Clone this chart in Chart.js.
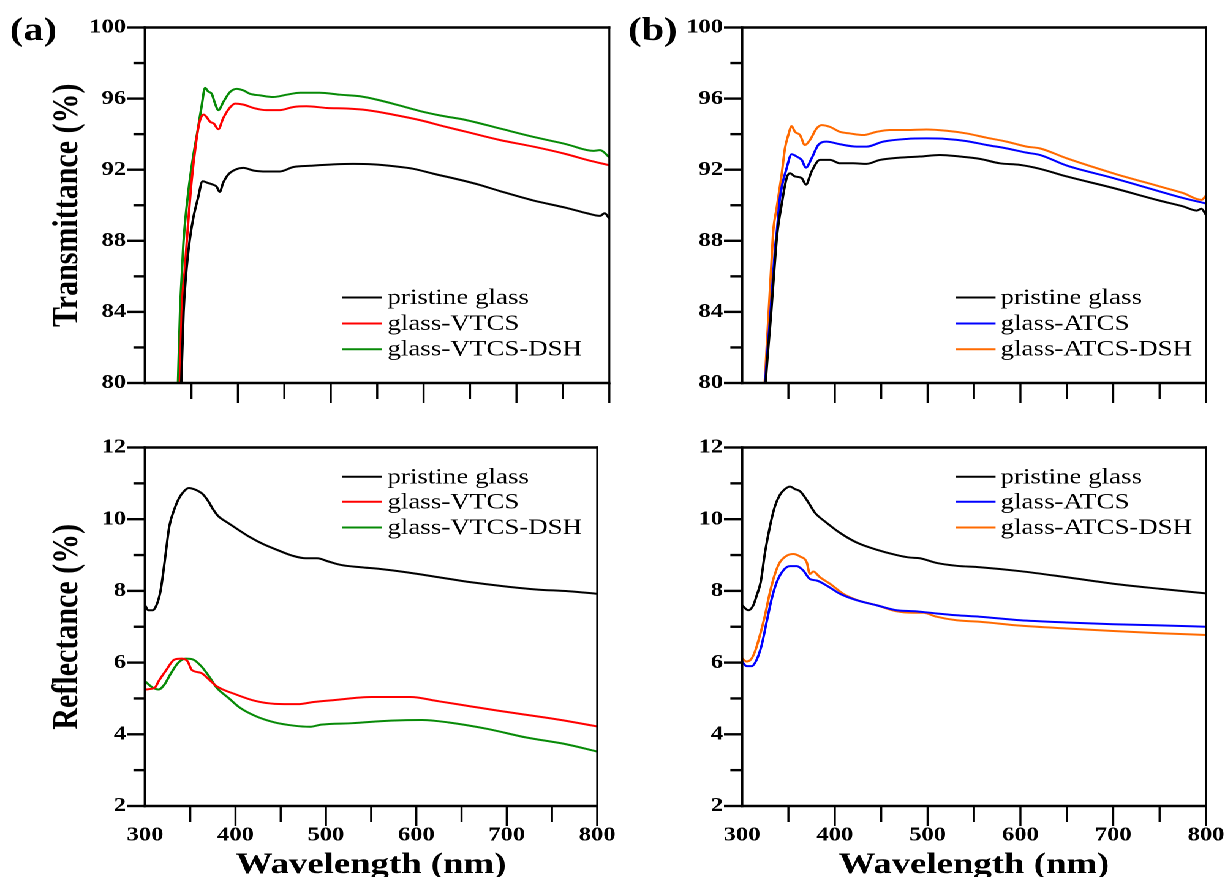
<!DOCTYPE html>
<html>
<head>
<meta charset="utf-8">
<script src="https://cdn.jsdelivr.net/npm/chart.js@4.4.1/dist/chart.umd.min.js"></script>
<style>
html, body { margin: 0; padding: 0; background: #fff; overflow: hidden; width: 1225px; height: 877px; }
#wrap { position: absolute; left: 0; top: 0; width: 1000px; height: 877px; transform: scaleX(1.225); transform-origin: 0 0; }
#wrap canvas { position: absolute; }
</style>
</head>
<body>
<div id="wrap">
  <canvas id="cBT" width="520" height="420" style="left:500px;top:0px"></canvas>
  <canvas id="cBR" width="520" height="480" style="left:500px;top:420px"></canvas>
  <canvas id="cAT" width="520" height="420" style="left:0px;top:0px"></canvas>
  <canvas id="cAR" width="520" height="480" style="left:0px;top:420px"></canvas>
</div>
<script>
// ---------- tick labels ----------
const xLabelTicks = [300, 400, 500, 600, 700, 800];
const tLabelTicks = [80, 84, 88, 92, 96, 100];
const rLabelTicks = [2, 4, 6, 8, 10, 12];

// ---------- series names ----------
const seriesA = ['pristine glass', 'glass-VTCS', 'glass-VTCS-DSH'];
const seriesB = ['pristine glass', 'glass-ATCS', 'glass-ATCS-DSH'];

// ---------- (a) transmittance ----------
const aT_wl_pristine = [330, 339, 341.5, 344, 348, 352, 357, 362, 368, 373.5, 377, 380.5, 384, 390, 397, 406, 417, 431, 445, 460, 478, 503, 524, 546, 567, 589, 610, 640, 660, 682, 718, 754, 776, 790, 795, 800];
const aT_pristine = [70, 80, 84, 86, 88, 89.3, 90.4, 91.35, 91.25, 91.15, 91.05, 90.75, 91.25, 91.75, 92.0, 92.1, 91.95, 91.9, 91.9, 92.15, 92.22, 92.3, 92.33, 92.3, 92.2, 92.05, 91.78, 91.42, 91.15, 90.8, 90.27, 89.85, 89.55, 89.4, 89.55, 89.25];
const aT_wl_vtcs = [330, 337.5, 339.5, 343, 345, 350, 355, 358.5, 363, 366.5, 370, 374, 379, 384, 391.5, 397, 406, 417, 431, 445, 460, 474, 496, 517, 539, 567, 596, 621, 646, 682, 718, 754, 776, 800];
const aT_vtcs = [70, 80, 84, 86.5, 88, 91.3, 93.55, 94.65, 95.1, 94.95, 94.7, 94.6, 94.28, 94.88, 95.5, 95.72, 95.66, 95.47, 95.35, 95.35, 95.53, 95.57, 95.47, 95.44, 95.35, 95.1, 94.79, 94.45, 94.13, 93.67, 93.3, 92.87, 92.55, 92.25];
const aT_wl_dsh = [330, 335.5, 337.7, 340, 341.5, 346.7, 352, 356.3, 361, 364.6, 368, 371.8, 375.4, 379, 384.3, 391.5, 398.7, 406, 413, 424, 438, 452.6, 467, 488, 510, 531.5, 553, 575, 596, 618, 646, 682, 718, 754, 783, 790, 800];
const aT_dsh = [70, 80, 84, 86.5, 88, 90.8, 92.8, 94.1, 95.6, 96.6, 96.4, 96.27, 95.72, 95.35, 95.81, 96.37, 96.55, 96.46, 96.27, 96.18, 96.09, 96.22, 96.33, 96.33, 96.22, 96.13, 95.9, 95.6, 95.3, 95.05, 94.79, 94.32, 93.85, 93.43, 93.06, 93.1, 92.7];

// ---------- (b) transmittance ----------
const bT_wl_pristine = [315, 325.5, 331.5, 335, 338, 342.7, 348.1, 351.7, 357.1, 364.3, 368.9, 375, 384, 394.8, 405.5, 419.8, 434.3, 448.6, 470.1, 491.7, 513.2, 534.7, 556.3, 577.8, 599.4, 620.9, 650, 700, 750, 775, 790, 795, 800];
const bT_pristine = [70, 80, 84, 86.5, 88.4, 90.04, 91.53, 91.8, 91.62, 91.53, 91.16, 91.9, 92.55, 92.55, 92.36, 92.36, 92.33, 92.55, 92.68, 92.74, 92.83, 92.74, 92.61, 92.36, 92.27, 92.05, 91.62, 90.97, 90.26, 89.94, 89.7, 89.8, 89.45];
const bT_wl_atcs = [315, 325, 330.8, 335.5, 337.5, 340.9, 348.1, 353.5, 358.9, 364.3, 368.9, 375, 382.2, 391.2, 405.5, 423.5, 434.3, 452.2, 477.3, 498.9, 520.4, 542, 563.5, 585, 606.6, 620.9, 650, 700, 750, 775, 800];
const bT_atcs = [70, 80, 84, 87.5, 88.5, 90.41, 92.08, 92.87, 92.74, 92.55, 92.12, 92.64, 93.39, 93.58, 93.43, 93.3, 93.3, 93.58, 93.73, 93.76, 93.73, 93.61, 93.39, 93.2, 92.96, 92.83, 92.23, 91.53, 90.78, 90.41, 90.1];
const bT_wl_dsh = [315, 324.5, 328.8, 332, 333.7, 337.4, 342.7, 346.3, 349.9, 353.5, 357.1, 362.5, 367.8, 373.2, 380.4, 385.8, 394.8, 405.5, 416.3, 430.6, 445, 459.4, 477.3, 498.9, 520.4, 542, 563.5, 585, 606.6, 620.9, 650, 700, 750, 775, 795, 800];
const bT_dsh = [70, 80, 84, 87, 88.55, 89.85, 91.71, 93.2, 93.95, 94.45, 94.13, 93.95, 93.39, 93.67, 94.32, 94.51, 94.41, 94.13, 94.04, 93.95, 94.13, 94.23, 94.23, 94.26, 94.19, 94.04, 93.8, 93.58, 93.3, 93.2, 92.64, 91.8, 91.06, 90.69, 90.3, 90.55];

// ---------- (a) reflectance ----------
const aR_wl_pristine = [300, 303.6, 308.3, 312.6, 316.9, 319.7, 323.4, 326.9, 332.3, 337.7, 343.1, 348.5, 353.8, 359.2, 364.6, 370, 375.4, 380.8, 391.5, 402.3, 416.6, 431, 445.4, 463.3, 477.7, 490.3, 502.8, 517.2, 538.7, 560.3, 588.9, 624.9, 660.7, 696.6, 732.5, 768.4, 800];
const aR_pristine = [7.6, 7.46, 7.46, 7.6, 7.97, 8.43, 9.16, 9.81, 10.27, 10.59, 10.78, 10.87, 10.84, 10.78, 10.68, 10.5, 10.27, 10.09, 9.9, 9.72, 9.49, 9.3, 9.15, 8.98, 8.91, 8.91, 8.82, 8.72, 8.66, 8.61, 8.52, 8.38, 8.24, 8.13, 8.04, 7.99, 7.92];
const aR_wl_vtcs = [300, 310.8, 315, 323.7, 332.2, 340.7, 347.2, 351.5, 362.1, 370.7, 379.2, 400.7, 422, 443.4, 469, 486.3, 507.6, 550.5, 593.2, 625, 660, 690, 720, 760, 800];
const aR_vtcs = [5.25, 5.3, 5.48, 5.8, 6.08, 6.11, 6.03, 5.8, 5.71, 5.53, 5.34, 5.11, 4.93, 4.85, 4.84, 4.9, 4.95, 5.04, 5.04, 4.92, 4.78, 4.66, 4.55, 4.4, 4.22];
const aR_wl_dsh = [300, 308.6, 315, 321.5, 327.9, 336.5, 345, 353.6, 362.1, 370.7, 379.2, 392, 405, 422, 443.4, 464.8, 482, 494.8, 529, 571.9, 606.1, 636, 678.8, 721.7, 764.4, 800];
const aR_dsh = [5.48, 5.3, 5.25, 5.39, 5.67, 5.99, 6.11, 6.08, 5.9, 5.62, 5.3, 5.02, 4.74, 4.51, 4.33, 4.24, 4.21, 4.27, 4.31, 4.38, 4.4, 4.33, 4.15, 3.91, 3.73, 3.52];

// ---------- (b) reflectance ----------
const bR_wl_pristine = [300, 306.8, 312.2, 315.8, 320.1, 324.8, 330.2, 335.5, 340.9, 346.3, 351.7, 357.1, 362.5, 369.7, 378.6, 391.2, 405.5, 423.5, 445, 466.6, 480.9, 491.7, 509.6, 531.2, 556.3, 600, 650, 700, 750, 800];
const bR_pristine = [7.6, 7.46, 7.6, 7.87, 8.24, 9.07, 9.81, 10.36, 10.68, 10.84, 10.91, 10.84, 10.78, 10.54, 10.18, 9.9, 9.62, 9.35, 9.15, 9.0, 8.93, 8.91, 8.78, 8.70, 8.66, 8.55, 8.38, 8.2, 8.06, 7.93];
const bR_wl_atcs = [300, 305.1, 310.4, 315.8, 321.2, 326.6, 332, 337.4, 344.5, 351.7, 358.9, 366, 373.2, 380.4, 391.2, 405.5, 423.5, 445, 466.6, 488.1, 509.6, 531.2, 556.3, 600, 650, 700, 750, 800];
const bR_atcs = [6.03, 5.9, 5.9, 6.08, 6.49, 7.14, 7.78, 8.24, 8.57, 8.69, 8.69, 8.57, 8.33, 8.29, 8.15, 7.92, 7.74, 7.6, 7.46, 7.43, 7.37, 7.32, 7.28, 7.18, 7.12, 7.07, 7.04, 7.0];
const bR_wl_dsh = [300, 305.1, 309.4, 314, 319.4, 324.8, 330.2, 335.5, 340.9, 348.1, 355.2, 362.5, 369.7, 373.2, 376.8, 384, 394.8, 409.1, 423.5, 445, 466.6, 484.5, 495.2, 509.6, 531.2, 556.3, 600, 650, 700, 750, 800];
const bR_dsh = [6.12, 6.03, 6.08, 6.31, 6.77, 7.32, 7.97, 8.47, 8.8, 8.98, 9.03, 8.96, 8.8, 8.47, 8.54, 8.38, 8.2, 7.92, 7.75, 7.6, 7.43, 7.39, 7.39, 7.28, 7.18, 7.14, 7.03, 6.95, 6.88, 6.82, 6.77];

// ---------- styling ----------
const FONT = "'Liberation Serif', 'Times New Roman', serif";
const COL = { black: '#000000', red: '#ff0000', green: '#078a07', blue: '#0000ff', orange: '#ff6a00' };
Chart.defaults.font.family = FONT;
Chart.defaults.color = '#000';

function pts(wl, v) { return wl.map((x, i) => ({ x: x, y: v[i] })); }

const frameTicks = {
  id: 'frameTicks',
  afterDatasetsDraw(chart, args, o) {
    const ctx = chart.ctx, ca = chart.chartArea, xs = chart.scales.x, ys = chart.scales.y;
    ctx.save();
    ctx.strokeStyle = '#000';
    ctx.lineCap = 'butt';
    // x tick marks (outward)
    ctx.lineWidth = 1.7;
    xs.ticks.forEach(t => {
      if (t.value <= xs.min) return;
      const px = xs.getPixelForValue(t.value);
      const len = xLabelTicks.includes(t.value) ? 20 : 16;
      ctx.beginPath(); ctx.moveTo(px, ca.bottom); ctx.lineTo(px, ca.bottom + len); ctx.stroke();
    });
    // y tick marks (outward)
    ctx.lineWidth = 2.4;
    ys.ticks.forEach(t => {
      const py = ys.getPixelForValue(t.value);
      const len = o.yMajor.includes(t.value) ? 14.7 : 9.5;
      ctx.beginPath(); ctx.moveTo(ca.left - len, py); ctx.lineTo(ca.left, py); ctx.stroke();
    });
    // frame
    ctx.lineWidth = 2.6;
    ctx.beginPath();
    ctx.moveTo(ca.left - 1.1, ca.top); ctx.lineTo(ca.right + 0.8, ca.top);
    ctx.moveTo(ca.left - 1.1, ca.bottom); ctx.lineTo(ca.right + 0.8, ca.bottom);
    ctx.stroke();
    ctx.lineWidth = 2.2;
    ctx.beginPath(); ctx.moveTo(ca.left, ca.top - 1.3); ctx.lineTo(ca.left, ca.bottom + 1.3); ctx.stroke();
    ctx.lineWidth = 1.6;
    ctx.beginPath(); ctx.moveTo(ca.right, ca.top - 1.3); ctx.lineTo(ca.right, ca.bottom + 1.3); ctx.stroke();
    // legend
    ctx.font = '22px ' + FONT;
    ctx.textAlign = 'left';
    ctx.textBaseline = 'alphabetic';
    chart.data.datasets.forEach((ds, i) => {
      const y = ca.top + o.legendRows[i];
      ctx.strokeStyle = ds.borderColor; ctx.lineWidth = 2;
      ctx.beginPath(); ctx.moveTo(o.legendX1, y); ctx.lineTo(o.legendX2, y); ctx.stroke();
      ctx.fillStyle = '#000';
      ctx.fillText(ds.label, o.legendTextX, y + 6.5);
    });
    // panel label
    if (o.panel) {
      ctx.font = 'bold 33px ' + FONT;
      ctx.fillStyle = '#000';
      ctx.fillText(o.panel, o.panelX, o.panelY);
    }
    ctx.restore();
  }
};

function makeChart(id, o) {
  return new Chart(document.getElementById(id), {
    type: 'line',
    data: {
      datasets: o.series.map(s => ({
        label: s.label, data: pts(s.wl, s.v),
        borderColor: s.color, backgroundColor: s.color,
        borderWidth: 2, pointRadius: 0, fill: false,
        cubicInterpolationMode: 'monotone'
      }))
    },
    options: {
      responsive: false, animation: false, devicePixelRatio: 2,
      events: [],
      layout: { padding: { left: 0, top: o.padTop, right: o.padRight, bottom: 0 } },
      plugins: {
        legend: { display: false }, tooltip: { enabled: false },
        frameTicks: o.deco
      },
      scales: {
        x: {
          type: 'linear', min: 300, max: 800,
          grid: { display: false, drawTicks: false }, border: { display: false },
          ticks: {
            stepSize: 50, autoSkip: false, maxRotation: 0, minRotation: 0, padding: 17.5,
            font: { size: 20, weight: 'bold' }, color: '#000',
            callback: v => (o.showX && xLabelTicks.includes(v)) ? String(v) : ''
          },
          title: { display: o.showX, text: 'Wavelength (nm)', color: '#000',
                   font: { size: 30, weight: 'bold' }, padding: { top: 0, bottom: 17 } },
          afterFit: s => { s.height = o.xH; }
        },
        y: {
          min: o.yMin, max: o.yMax,
          grid: { display: false, drawTicks: false }, border: { display: false },
          ticks: {
            stepSize: o.yStep, autoSkip: false, padding: 15.5,
            font: { size: 20, weight: 'bold' }, color: '#000',
            callback: v => o.yLabels.includes(v) ? String(v) : ''
          },
          title: { display: !!o.yTitle, text: o.yTitle || '', color: '#000',
                   font: { size: 30, weight: 'bold' }, padding: { top: 37, bottom: 0 } },
          afterFit: s => { s.width = o.yW; }
        }
      }
    },
    plugins: [frameTicks]
  });
}

const legA = { legendX1: 279, legendX2: 311.5, legendTextX: 316.3 };
const legB = { legendX1: 280, legendX2: 312.7, legendTextX: 316.8 };

makeChart('cAT', {
  series: [
    { label: seriesA[0], wl: aT_wl_pristine, v: aT_pristine, color: COL.black },
    { label: seriesA[1], wl: aT_wl_vtcs, v: aT_vtcs, color: COL.red },
    { label: seriesA[2], wl: aT_wl_dsh, v: aT_dsh, color: COL.green }
  ],
  padTop: 25, padRight: 22.6, xH: 37, yW: 118.4, showX: false,
  yMin: 80, yMax: 100, yStep: 2, yLabels: tLabelTicks, yTitle: 'Transmittance (%)',
  deco: Object.assign({ yMajor: tLabelTicks, legendRows: [270, 296, 321.7], panel: '(a)', panelX: 8, panelY: 40 }, legA)
});

makeChart('cAR', {
  series: [
    { label: seriesA[0], wl: aR_wl_pristine, v: aR_pristine, color: COL.black },
    { label: seriesA[1], wl: aR_wl_vtcs, v: aR_vtcs, color: COL.red },
    { label: seriesA[2], wl: aR_wl_dsh, v: aR_dsh, color: COL.green }
  ],
  padTop: 24, padRight: 22.6, xH: 94, yW: 118.4, showX: true,
  yMin: 2, yMax: 12, yStep: 1, yLabels: rLabelTicks, yTitle: 'Reflectance (%)',
  deco: Object.assign({ yMajor: rLabelTicks, legendRows: [29.3, 54.3, 80] }, legA)
});

makeChart('cBT', {
  series: [
    { label: seriesB[0], wl: bT_wl_pristine, v: bT_pristine, color: COL.black },
    { label: seriesB[1], wl: bT_wl_atcs, v: bT_atcs, color: COL.blue },
    { label: seriesB[2], wl: bT_wl_dsh, v: bT_dsh, color: COL.orange }
  ],
  padTop: 25, padRight: 35.5, xH: 37, yW: 105.7, showX: false,
  yMin: 80, yMax: 100, yStep: 2, yLabels: tLabelTicks, yTitle: '',
  deco: Object.assign({ yMajor: tLabelTicks, legendRows: [270, 296, 321.7], panel: '(b)', panelX: 12.7, panelY: 40 }, legB)
});

makeChart('cBR', {
  series: [
    { label: seriesB[0], wl: bR_wl_pristine, v: bR_pristine, color: COL.black },
    { label: seriesB[1], wl: bR_wl_atcs, v: bR_atcs, color: COL.blue },
    { label: seriesB[2], wl: bR_wl_dsh, v: bR_dsh, color: COL.orange }
  ],
  padTop: 24, padRight: 35.5, xH: 94, yW: 105.7, showX: true,
  yMin: 2, yMax: 12, yStep: 1, yLabels: rLabelTicks, yTitle: '',
  deco: Object.assign({ yMajor: rLabelTicks, legendRows: [29.3, 54.3, 80] }, legB)
});
</script>
</body>
</html>
